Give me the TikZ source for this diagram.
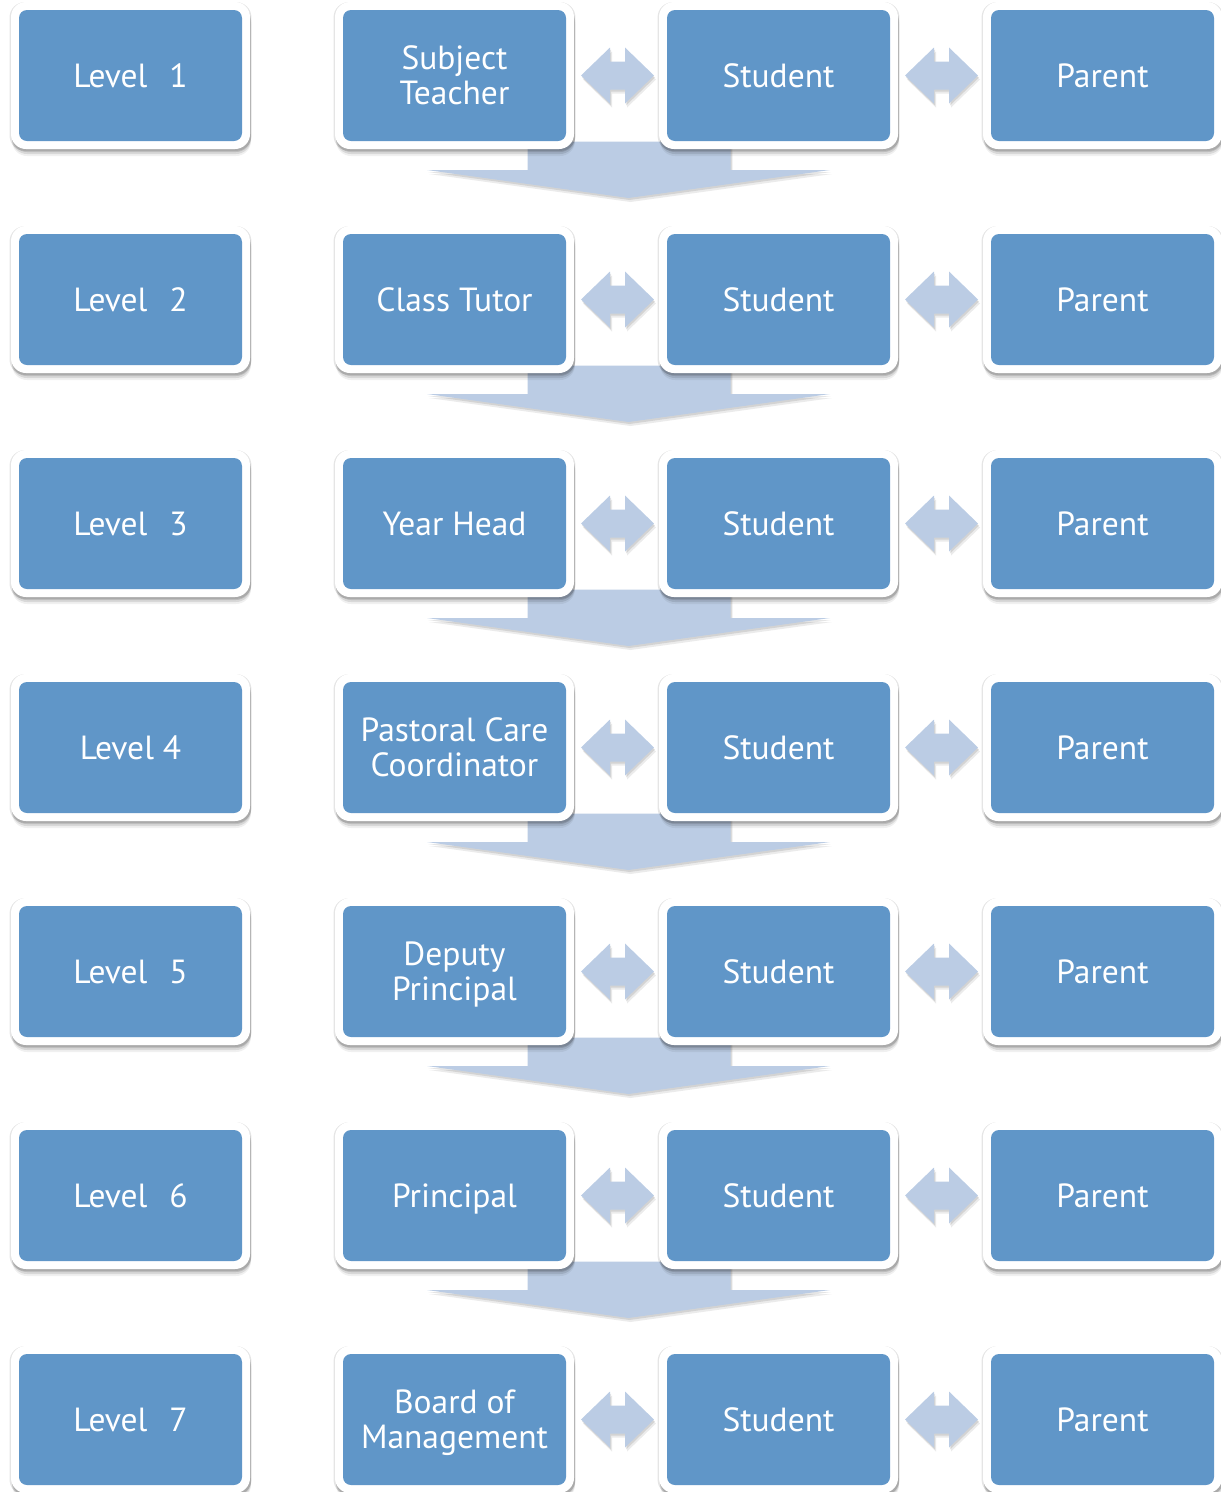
\documentclass[tikz,border=0pt]{standalone}
\usepackage{fontspec}
\setmainfont{PT Sans}
\usetikzlibrary{shadows,calc}
\definecolor{boxblue}{RGB}{96,150,200}
\definecolor{arrowblue}{RGB}{187,204,228}
\newcommand\capl[1]{\smash{#1}\rule{0pt}{23.5pt}}
\tikzset{
  box/.style={rectangle, rounded corners=15pt, fill=white,
    minimum width=239pt, minimum height=147pt, inner sep=0pt,
    text=white, align=center, font=\fontsize{33.5}{35}\selectfont,
    path picture={\fill[boxblue, rounded corners=8pt]
      ([shift={(8pt,8pt)}]path picture bounding box.south west) rectangle
      ([shift={(-8pt,-8pt)}]path picture bounding box.north east);},
    drop shadow={shadow xshift=0pt, shadow yshift=-1pt, shadow scale=1.012, opacity=0.10, fill=black},
    drop shadow={shadow xshift=1pt, shadow yshift=-3pt, opacity=0.12, fill=black},
    drop shadow={shadow xshift=1pt, shadow yshift=-5pt, opacity=0.10, fill=black},
    drop shadow={shadow xshift=1pt, shadow yshift=-7pt, opacity=0.06, fill=black}},
  flowarrow/.style={fill=arrowblue,
    drop shadow={shadow xshift=1pt, shadow yshift=-2pt, opacity=0.10, fill=black},
    drop shadow={shadow xshift=2pt, shadow yshift=-4pt, opacity=0.08, fill=black}},
}
\begin{document}
\begin{tikzpicture}[x=1pt,y=-1pt]
\useasboundingbox (0,0) rectangle (1221,1492);
% coordinates of row centres
\foreach \k in {1,...,7}{
  \coordinate (r\k) at (0,{75.5+224*(\k-1)});
}
% down arrows (behind boxes)
\foreach \k in {1,...,6}{
  \begin{scope}[shift={($(r\k)+(454.5,0)$)}]
    \path[flowarrow] (73,66) -- (276,66) -- (276,94.5) -- (375.5,94.5)
      -- (174,122.5) -- (-27.5,94.5) -- (73,94.5) -- cycle;
  \end{scope}
}
% boxes
\foreach \k/\lab/\who in {1/{Level\hspace{22pt}1}/{\capl{Subject}\\\capl{Teacher}},
                          2/{Level\hspace{22pt}2}/{\capl{Class Tutor}},
                          3/{Level\hspace{22pt}3}/{\capl{Year Head}},
                          4/{Level 4}/{\capl{Pastoral Care}\\\capl{Coordinator}},
                          5/{Level\hspace{22pt}5}/{\capl{Deputy}\\\capl{Principal}},
                          6/{Level\hspace{22pt}6}/{\capl{Principal}},
                          7/{Level\hspace{22pt}7}/{\capl{Board of}\\\capl{Management}}}{
  \node[box] (l\k) at ($(r\k)+(130.5,0)$) {\capl{\lab}};
  \node[box] (t\k) at ($(r\k)+(454.5,0)$) {\who};
  \node[box] (s\k) at ($(r\k)+(778.5,0)$) {\capl{Student}};
  \node[box] (p\k) at ($(r\k)+(1102.5,0)$) {\capl{Parent}};
}
% double arrows
\foreach \k in {1,...,7}{
  \foreach \n in {t,s}{
    \begin{scope}[shift={(\n\k.center)}]
      \path[flowarrow] (126.5,0) -- (155.5,-28) -- (155.5,-14) -- (170.5,-14)
        -- (170.5,-28) -- (199.5,0) -- (170.5,28) -- (170.5,14) -- (155.5,14)
        -- (155.5,28) -- cycle;
    \end{scope}
  }
}
\end{tikzpicture}
\end{document}
